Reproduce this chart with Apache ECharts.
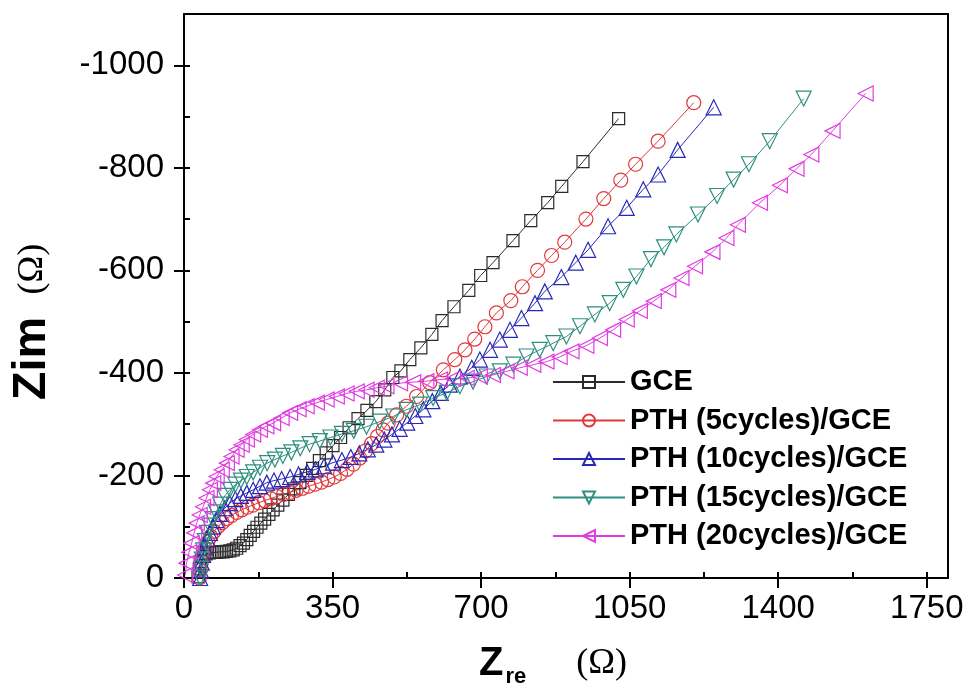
<!DOCTYPE html>
<html>
<head>
<meta charset="utf-8">
<script src="https://cdn.jsdelivr.net/npm/echarts@6/dist/echarts.min.js"></script>
<style>
  html, body { margin: 0; padding: 0; background: #fff; }
  #chart { width: 968px; height: 690px; }
</style>
</head>
<body>
<div id="chart"></div>
<script>
// Nyquist data: [Zre, -Zim] in ohm
var seriesNames = ["GCE", "PTH (5cycles)/GCE", "PTH (10cycles)/GCE", "PTH (15cycles)/GCE", "PTH (20cycles)/GCE"];

var gce = [[33,2],[36,18],[40,32],[45,42],[52,47],[60,49],[68,50],[76,50],[84,51],[92,51],[100,52],[108,53],[116,55],[124,58],[132,63],[140,68],[148,75],[156,83],[164,91],[172,99],[181,107],[190,115],[200,124],[210,133],[221,142],[233,152],[246,163],[259,174],[273,186],[288,200],[303,214],[319,229],[335,244],[351,258],[369,274],[389,293],[410,311],[431,327],[452,344],[473,367],[492,391],[511,404],[532,426],[558,449],[584,475],[608,502],[636,529],[671,561],[699,590],[728,615],[775,658],[817,697],[857,732],[890,764],[940,812],[1024,896]];

var pth5 = [[36,0],[38,15],[41,30],[45,45],[50,58],[56,70],[63,81],[71,91],[80,100],[90,108],[101,116],[112,122],[124,128],[136,133],[149,138],[162,142],[176,147],[190,151],[204,155],[219,159],[234,163],[249,167],[264,171],[279,175],[294,179],[309,183],[324,187],[339,192],[354,197],[369,204],[384,212],[399,222],[414,234],[428,248],[442,262],[456,276],[469,289],[481,302],[501,318],[524,335],[548,354],[579,381],[611,406],[638,426],[662,445],[685,466],[709,490],[736,517],[770,541],[797,568],[833,600],[866,629],[897,655],[947,700],[989,740],[1029,776],[1064,807],[1117,852],[1201,927]];

var pth10 = [[38,0],[40,15],[42,30],[45,45],[49,60],[55,76],[61,88],[68,100],[76,113],[85,125],[96,136],[108,146],[121,154],[134,160],[148,166],[163,172],[179,179],[195,186],[212,190],[230,193],[250,197],[270,202],[290,207],[310,212],[330,218],[351,225],[372,230],[393,236],[413,243],[433,251],[453,260],[472,270],[490,280],[508,291],[526,303],[545,316],[564,329],[585,345],[605,361],[626,377],[650,393],[678,410],[697,426],[721,445],[744,465],[768,484],[795,507],[827,536],[850,559],[889,587],[923,615],[952,640],[999,686],[1043,722],[1082,758],[1117,787],[1163,835],[1248,918]];

var pth15 = [[38,0],[40,18],[42,36],[45,54],[49,72],[54,88],[60,102],[67,115],[75,128],[85,143],[96,160],[108,172],[121,182],[134,190],[148,197],[163,206],[179,215],[196,224],[214,231],[233,238],[253,245],[274,253],[296,261],[320,267],[345,274],[372,281],[400,287],[430,295],[461,305],[493,315],[524,328],[556,338],[587,351],[619,361],[650,374],[681,383],[713,393],[744,403],[776,416],[807,432],[838,445],[870,458],[901,471],[933,491],[968,514],[1003,536],[1035,562],[1066,588],[1100,622],[1131,645],[1160,670],[1211,709],[1256,745],[1295,777],[1331,807],[1380,852],[1460,935]];

var pth20 = [[3,6],[6,29],[12,50],[18,68],[24,88],[30,107],[37,123],[45,139],[53,156],[61,172],[69,185],[77,198],[89,211],[101,224],[112,237],[124,250],[136,260],[148,270],[163,280],[179,289],[194,296],[210,302],[230,312],[250,322],[270,329],[289,335],[313,342],[336,348],[360,354],[383,360],[407,364],[430,367],[454,371],[477,374],[509,380],[540,382],[571,384],[603,387],[634,389],[666,390],[697,393],[728,396],[760,403],[791,410],[823,416],[854,422],[885,431],[913,442],[948,453],[980,468],[1011,484],[1043,504],[1074,521],[1107,540],[1141,562],[1172,585],[1204,608],[1245,636],[1278,663],[1305,689],[1357,732],[1404,766],[1443,798],[1478,826],[1528,872],[1606,945]];

var colors = ["#2b2b2b", "#e0383c", "#2828b8", "#2e8f80", "#e03ce0"];

var chart = echarts.init(document.getElementById("chart"));

function makeSeries(i, data, symbol, size, rotate) {
  return {
    name: seriesNames[i],
    type: "line",
    data: data,
    xAxisIndex: 0,
    yAxisIndex: 0,
    symbol: symbol,
    symbolSize: size,
    symbolRotate: rotate,
    showAllSymbol: true,
    animation: false,
    lineStyle: { color: colors[i], width: 1 },
    itemStyle: { color: "rgba(0,0,0,0)", borderColor: colors[i], borderWidth: 1.2 }
  };
}

var tickFont = { fontFamily: "Liberation Sans", fontSize: 33, color: "#000" };

chart.setOption({
  animation: false,
  grid: {
    left: 184, top: 14, right: 20, bottom: 112,
    show: true, borderColor: "#000", borderWidth: 2,
    outerBoundsMode: "none"
  },
  legend: {
    orient: "vertical",
    left: 547,
    top: 362,
    itemWidth: 72,
    itemHeight: 15,
    itemGap: 8.5,
    textStyle: { fontFamily: "Liberation Sans", fontSize: 29, fontWeight: "bold", color: "#000", lineHeight: 30 },
    data: seriesNames
  },
  xAxis: [
    {
      type: "value", min: 0, max: 1800, interval: 350,
      axisLine: { lineStyle: { color: "#000", width: 2 } },
      axisTick: { length: 10, lineStyle: { color: "#000", width: 2 } },
      axisLabel: Object.assign({
        margin: 14, showMaxLabel: false,
        formatter: function (v) { return String(v); }
      }, tickFont),
      splitLine: { show: false },
      name: "{z|Z}{s|re}{o|(Ω)}",
      nameLocation: "middle",
      nameGap: 62,
      nameTextStyle: {
        rich: {
          z: { fontFamily: "Liberation Sans", fontSize: 40, fontWeight: "bold", color: "#000" },
          s: { fontFamily: "Liberation Sans", fontSize: 22, fontWeight: "bold", color: "#000", padding: [26, 0, 0, 2] },
          o: { fontFamily: "Liberation Serif", fontSize: 36, color: "#000", padding: [0, 26, 0, 50] }
        }
      }
    },
    {
      type: "value", min: 0, max: 1800, interval: 175,
      axisLine: { show: false },
      axisTick: { length: 6, lineStyle: { color: "#000", width: 2 } },
      axisLabel: { show: false },
      splitLine: { show: false }
    }
  ],
  yAxis: [
    {
      type: "value", min: 0, max: 1100, interval: 200,
      axisLine: { lineStyle: { color: "#000", width: 2 } },
      axisTick: { length: 10, lineStyle: { color: "#000", width: 2 } },
      axisLabel: Object.assign({
        margin: 20, showMaxLabel: false,
        formatter: function (v) { return v === 0 ? "0" : "-" + v; }
      }, tickFont),
      splitLine: { show: false },
      name: "{z|Zim}{o|(Ω)}",
      nameLocation: "middle",
      nameGap: 128,
      nameTextStyle: {
        rich: {
          z: { fontFamily: "Liberation Sans", fontSize: 47, fontWeight: "bold", color: "#000" },
          o: { fontFamily: "Liberation Serif", fontSize: 36, color: "#000", padding: [0, 52, 0, 22] }
        }
      }
    },
    {
      type: "value", min: 0, max: 1100, interval: 100,
      axisLine: { show: false },
      axisTick: { length: 6, lineStyle: { color: "#000", width: 2 } },
      axisLabel: { show: false },
      splitLine: { show: false }
    }
  ],
  series: [
    makeSeries(0, gce, "rect", 12, 0),
    makeSeries(1, pth5, "circle", 14, 0),
    makeSeries(2, pth10, "triangle", 15, 0),
    makeSeries(3, pth15, "triangle", 15, 180),
    makeSeries(4, pth20, "triangle", 15, 90)
  ]
});
</script>
</body>
</html>
